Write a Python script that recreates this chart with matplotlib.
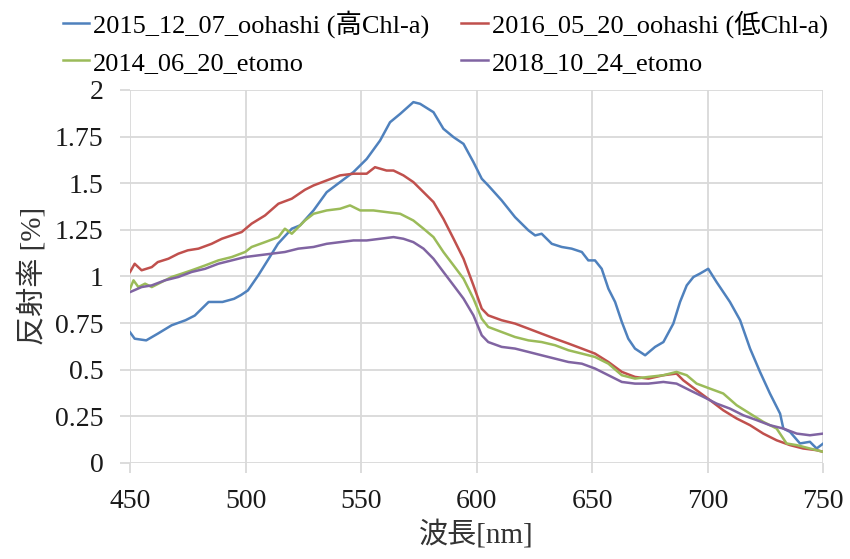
import matplotlib
matplotlib.use("Agg")
import matplotlib.pyplot as plt

plt.rcParams['font.family'] = ['Liberation Serif', 'Noto Sans CJK JP']

# series (wavelength [nm], reflectance [%])
wl_blue = [450, 452, 457, 462, 468, 474, 478, 484, 490, 495, 498, 501, 505.5, 510, 514,
           520, 523.6, 529.4, 535.1, 540.9, 546.7, 552.4, 558.2, 562.5, 566.9, 572.6, 575.5,
           581.3, 585.6, 590, 594.3, 598.6, 602.2, 605, 610.8, 616.6, 622.4, 625.3, 628.1,
           632.5, 636.8, 641.1, 645.5, 648.3, 651.2, 654.1, 657, 659.9, 662.8, 665.6, 668.5,
           672.9, 677.2, 680.8, 685.1, 688, 690.9, 693.8, 696.6, 700.2, 703.8, 709.6, 714,
           718.3, 722.6, 726.9, 731.3, 732.7, 735.6, 739.9, 744.2, 747.1, 750]
r_blue = [0.70, 0.666, 0.657, 0.693, 0.738, 0.765, 0.79, 0.863, 0.863, 0.88, 0.9, 0.925,
          1.006, 1.095, 1.175, 1.256, 1.274, 1.354, 1.452, 1.506, 1.56, 1.63, 1.729, 1.827,
          1.872, 1.935, 1.926, 1.881, 1.792, 1.747, 1.711, 1.613, 1.524, 1.488, 1.408, 1.318,
          1.247, 1.22, 1.229, 1.175, 1.158, 1.149, 1.131, 1.086, 1.086, 1.041, 0.934, 0.863,
          0.756, 0.666, 0.613, 0.577, 0.622, 0.648, 0.747, 0.863, 0.952, 0.997, 1.015, 1.041,
          0.97, 0.863, 0.765, 0.613, 0.488, 0.372, 0.264, 0.184, 0.166, 0.104, 0.113, 0.077,
          0.104]

wl_red = [450, 452, 455, 459.4, 462, 466.6, 470.9, 475, 479.6, 485.3, 489.7, 494, 498.3,
          502.6, 508.4, 514.2, 520, 525.7, 529.4, 535.1, 540.9, 546.7, 552.4, 556, 561, 564,
          568.3, 572.6, 577, 581.3, 585.6, 590, 594.3, 598.6, 602.2, 605, 610.8, 616.6, 622.4,
          628.1, 633.9, 639.7, 645.5, 651.2, 657, 662.8, 668.5, 674.3, 680.8, 686.5, 689.4,
          695.2, 701, 706.7, 712.5, 718.3, 724, 729.8, 735.6, 741.3, 747.1, 750]
r_red = [1.024, 1.068, 1.033, 1.05, 1.077, 1.095, 1.122, 1.14, 1.149, 1.175, 1.202, 1.22,
         1.238, 1.283, 1.327, 1.39, 1.417, 1.465, 1.488, 1.515, 1.542, 1.551, 1.551, 1.586,
         1.568, 1.568, 1.542, 1.506, 1.452, 1.399, 1.309, 1.202, 1.095, 0.952, 0.827, 0.791,
         0.765, 0.747, 0.72, 0.693, 0.666, 0.64, 0.613, 0.586, 0.541, 0.488, 0.461, 0.452,
         0.47, 0.479, 0.443, 0.389, 0.336, 0.282, 0.238, 0.202, 0.157, 0.121, 0.095, 0.077,
         0.068, 0.059]

wl_green = [450, 451.5, 453.6, 456.5, 459.4, 463.7, 468, 472.4, 476.7, 482.5, 488.2, 494,
            499.8, 502.6, 508.4, 514.2, 517, 520, 525.7, 529.4, 535.1, 540.9, 545.2, 549.6,
            555.3, 561, 566.9, 572.6, 577, 581.3, 585.6, 590, 594.3, 598.6, 602.2, 605, 610.8,
            616.6, 622.4, 628.1, 633.9, 639.7, 645.5, 651.2, 657, 662.8, 668.5, 674.3, 680.8,
            686.5, 690.9, 695.2, 701, 706.7, 712.5, 718.3, 724, 729.8, 734.1, 738.5, 744.2, 750]
r_green = [0.934, 0.979, 0.943, 0.961, 0.943, 0.97, 0.997, 1.015, 1.033, 1.059, 1.086, 1.104,
           1.131, 1.158, 1.184, 1.211, 1.256, 1.229, 1.3, 1.336, 1.354, 1.363, 1.381, 1.354,
           1.354, 1.345, 1.336, 1.3, 1.256, 1.211, 1.131, 1.059, 0.988, 0.881, 0.773, 0.729,
           0.702, 0.675, 0.657, 0.648, 0.631, 0.604, 0.586, 0.568, 0.532, 0.47, 0.452, 0.461,
           0.47, 0.488, 0.47, 0.425, 0.398, 0.372, 0.309, 0.264, 0.22, 0.184, 0.104, 0.095,
           0.077, 0.059]

wl_purple = [450, 455, 459.4, 465.1, 470.9, 476.7, 482.5, 488.2, 494, 499.8, 505.5, 511.3,
             517, 522.8, 529.4, 535.1, 540.9, 546.7, 552.4, 558.2, 564, 568.3, 572.6, 577,
             581.3, 585.6, 590, 594.3, 598.6, 602.2, 605, 610.8, 616.6, 622.4, 628.1, 633.9,
             639.7, 645.5, 651.2, 657, 662.8, 668.5, 674.3, 680.8, 686.5, 692.3, 698.1, 703.8,
             709.6, 715.4, 721.2, 726.9, 732.7, 738.5, 744.2, 750]
r_purple = [0.916, 0.943, 0.952, 0.979, 0.997, 1.024, 1.041, 1.068, 1.086, 1.104, 1.113,
            1.122, 1.131, 1.149, 1.158, 1.175, 1.184, 1.193, 1.193, 1.202, 1.211, 1.202, 1.184,
            1.149, 1.095, 1.024, 0.952, 0.881, 0.791, 0.684, 0.648, 0.622, 0.613, 0.595, 0.577,
            0.559, 0.541, 0.532, 0.506, 0.47, 0.434, 0.425, 0.425, 0.434, 0.425, 0.389, 0.354,
            0.318, 0.291, 0.255, 0.229, 0.202, 0.184, 0.157, 0.148, 0.157]

labels = ['2015_12_07_oohashi (高Chl-a)', '2016_05_20_oohashi (低Chl-a)',
          '2014_06_20_etomo', '2018_10_24_etomo']
colors = ['#4F81BD', '#C0504D', '#9BBB59', '#8064A2']

xticks = [450, 500, 550, 600, 650, 700, 750]
yticks = [0, 0.25, 0.5, 0.75, 1, 1.25, 1.5, 1.75, 2]
ytick_labels = ['0', '0.25', '0.5', '0.75', '1', '1.25', '1.5', '1.75', '2']

fig = plt.figure(figsize=(8.5, 5.59), dpi=100)
ax = fig.add_axes([0.153, 0.172, 0.8156, 0.667])

series = [(wl_blue, r_blue), (wl_red, r_red), (wl_green, r_green), (wl_purple, r_purple)]
lines = []
for (wl, r), c, lab in zip(series, colors, labels):
    ln, = ax.plot(wl, r, color=c, lw=1.8, label=lab, zorder=3)
    lines.append(ln)

ax.set_xlim(450, 750)
ax.set_ylim(0, 2)
ax.set_xticks(xticks)
ax.set_yticks(yticks)
ax.set_yticklabels(ytick_labels)
ax.grid(True, color='#d9d9d9', lw=1.3, zorder=0)
for s in ax.spines.values():
    s.set_visible(False)
ax.tick_params(axis='both', length=7, width=1.3, color='#d9d9d9', labelsize=20,
               labelcolor='#1a1a1a', pad=12)

ax.set_xlabel('波長[nm]', fontsize=21, color='#333333', labelpad=4)
ax.set_ylabel('反射率 [%]', fontsize=21, color='#333333', labelpad=6)

# legend order in reference: row1 blue, red; row2 green, purple
fig.legend([lines[0], lines[2], lines[1], lines[3]],
           [labels[0], labels[2], labels[1], labels[3]],
           ncol=2, loc='upper left', bbox_to_anchor=(0.074, 0.982), frameon=False,
           fontsize=19, handlelength=1.0, handletextpad=0.15, columnspacing=1.2,
           labelspacing=0.5, borderpad=0, borderaxespad=0)

fig.savefig('out.png', dpi=100)
